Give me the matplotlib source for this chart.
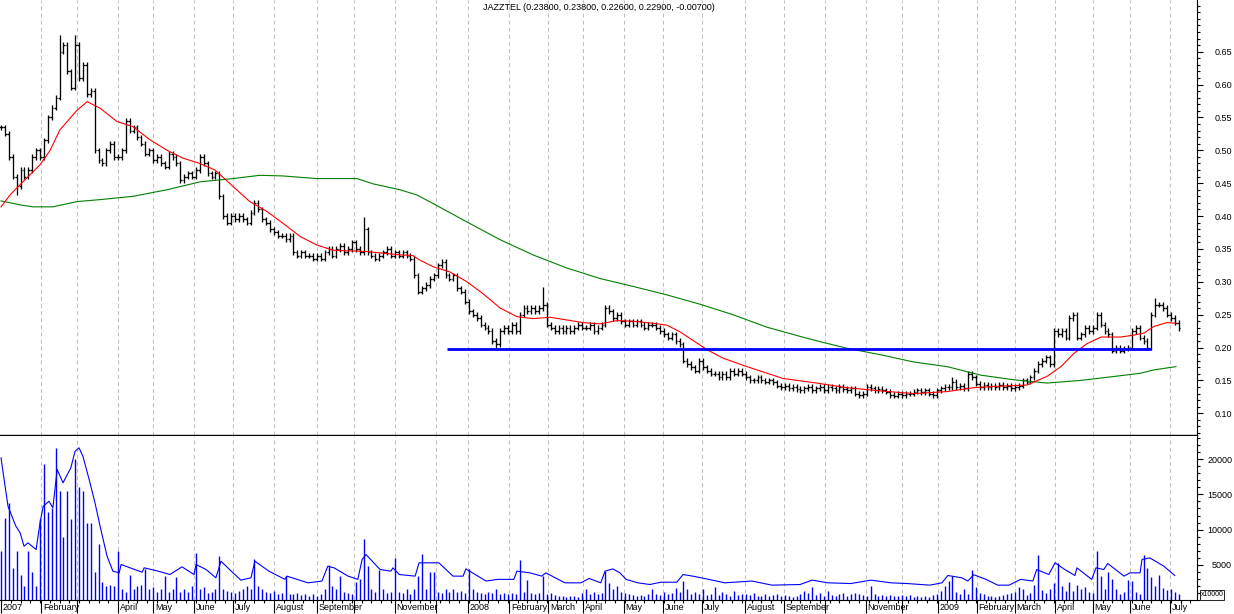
import numpy as np
import matplotlib
matplotlib.use('Agg')
import matplotlib.pyplot as plt
from matplotlib.collections import LineCollection
from matplotlib.ticker import FixedLocator, MultipleLocator, NullFormatter

plt.rcParams['font.family'] = ['Liberation Sans', 'DejaVu Sans']

TITLE = 'JAZZTEL (0.23800, 0.23800, 0.22600, 0.22900, -0.00700)'

# closing prices, one bar every two sessions (Jan 2007 - Jul 2009)
closes = [
    0.535, 0.525, 0.49, 0.46, 0.445, 0.47, 0.46, 0.47, 0.49, 0.50,
    0.49, 0.515, 0.55, 0.565, 0.58, 0.65, 0.66, 0.62, 0.595, 0.66,
    0.61, 0.63, 0.585, 0.59, 0.50, 0.485, 0.48, 0.50, 0.51, 0.49,
    0.49, 0.50, 0.545, 0.53, 0.535, 0.52, 0.51, 0.495, 0.50, 0.485,
    0.49, 0.48, 0.475, 0.495, 0.49, 0.48, 0.455, 0.46, 0.465, 0.46,
    0.47, 0.49, 0.48, 0.465, 0.46, 0.465, 0.43, 0.40, 0.39, 0.40,
    0.395, 0.40, 0.395, 0.39, 0.405, 0.42, 0.41, 0.395, 0.39, 0.38,
    0.375, 0.37, 0.37, 0.365, 0.37, 0.345, 0.34, 0.345, 0.34, 0.34,
    0.335, 0.34, 0.335, 0.345, 0.35, 0.34, 0.35, 0.355, 0.345, 0.35,
    0.36, 0.35, 0.345, 0.38, 0.345, 0.34, 0.335, 0.34, 0.345, 0.35,
    0.34, 0.345, 0.34, 0.345, 0.34, 0.335, 0.31, 0.285, 0.29, 0.295,
    0.305, 0.31, 0.325, 0.33, 0.31, 0.305, 0.31, 0.29, 0.285, 0.27,
    0.255, 0.25, 0.245, 0.235, 0.23, 0.225, 0.21, 0.205, 0.225, 0.23,
    0.225, 0.235, 0.225, 0.25, 0.26, 0.255, 0.26, 0.255, 0.26, 0.265,
    0.235, 0.23, 0.225, 0.23, 0.225, 0.23, 0.225, 0.23, 0.235, 0.23,
    0.23, 0.235, 0.225, 0.23, 0.235, 0.26, 0.255, 0.245, 0.25, 0.24,
    0.235, 0.24, 0.235, 0.24, 0.235, 0.23, 0.235, 0.235, 0.23, 0.225,
    0.22, 0.215, 0.22, 0.21, 0.205, 0.18, 0.175, 0.17, 0.165, 0.18,
    0.17, 0.165, 0.16, 0.16, 0.155, 0.16, 0.155, 0.165, 0.16, 0.165,
    0.16, 0.155, 0.15, 0.15, 0.155, 0.15, 0.148, 0.15, 0.147, 0.142,
    0.14, 0.142, 0.138, 0.14, 0.137, 0.135, 0.138, 0.14, 0.135, 0.138,
    0.14, 0.135, 0.14, 0.138, 0.135, 0.14, 0.137, 0.135, 0.138, 0.13,
    0.128, 0.13, 0.14, 0.138, 0.135, 0.137, 0.135, 0.133, 0.128, 0.127,
    0.13, 0.128, 0.13, 0.13, 0.133, 0.135, 0.132, 0.135, 0.13, 0.128,
    0.135, 0.138, 0.14, 0.14, 0.148, 0.14, 0.142, 0.138, 0.16, 0.155,
    0.145, 0.14, 0.143, 0.14, 0.142, 0.14, 0.143, 0.14, 0.142, 0.138,
    0.14, 0.142, 0.15, 0.148, 0.155, 0.165, 0.175, 0.18, 0.185, 0.175,
    0.225, 0.22, 0.225, 0.215, 0.245, 0.25, 0.215, 0.22, 0.23, 0.225,
    0.23, 0.25, 0.235, 0.225, 0.22, 0.195, 0.20, 0.195, 0.198, 0.20,
    0.225, 0.23, 0.215, 0.21, 0.20, 0.25, 0.265, 0.265, 0.26, 0.25,
    0.245, 0.238, 0.229,
]

# intraday extremes that stick out of the bars
spike_idx = [4, 15, 19, 65, 93, 127, 139, 244, 296]
spike_val = [0.432, 0.675, 0.675, 0.425, 0.399, 0.198, 0.292, 0.155, 0.275]

# short moving average (red)
ma_red_x = [0, 2.3, 5.6, 10.0, 12.6, 15.1, 19.5, 22.1, 25.4, 29.7, 33.8, 38.2,
            42.6, 46.7, 51.0, 54.9, 59.5, 63.8, 68.2, 72.3, 76.7, 81.0, 85.1,
            93.8, 102.3, 105.6, 107.4, 110.8, 115.1, 119.5, 123.6, 128.0,
            132.3, 136.4, 140.8, 145.1, 149.2, 153.6, 158.0, 162.1, 167.2,
            170.8, 174.1, 177.4, 181.0, 185.1, 190.3, 196.4, 200.5, 209.2,
            216.9, 225.6, 234.1, 242.6, 249.5, 255.4, 263.1, 268.2, 271.8,
            275.1, 278.5, 282.1, 287.2, 290.5, 293.1, 295.6, 299.0, 301.3]
ma_red_y = [0.414, 0.432, 0.452, 0.478, 0.50, 0.531, 0.561, 0.574, 0.564, 0.544,
            0.536, 0.516, 0.50, 0.488, 0.48, 0.47, 0.445, 0.422, 0.407, 0.389,
            0.369, 0.356, 0.348, 0.346, 0.341, 0.34, 0.333, 0.323, 0.315, 0.30,
            0.282, 0.26, 0.247, 0.244, 0.246, 0.242, 0.238, 0.236, 0.241, 0.24,
            0.237, 0.234, 0.224, 0.211, 0.197, 0.184, 0.173, 0.161, 0.153,
            0.146, 0.139, 0.134, 0.130, 0.133, 0.139, 0.141, 0.143, 0.156,
            0.171, 0.191, 0.206, 0.216, 0.216, 0.219, 0.222, 0.232, 0.238, 0.237]

# long moving average (green)
ma_green_x = [0, 4.9, 8.2, 13.3, 19.5, 25.4, 33.8, 42.6, 51.0, 59.5, 66.4, 72.3,
              81.0, 91.3, 95.4, 102.3, 106.7, 110.8, 119.5, 128.0, 136.4, 145.1,
              153.6, 162.1, 170.8, 179.2, 187.7, 196.4, 204.9, 210.0, 216.9,
              225.6, 234.1, 242.6, 251.3, 259.7, 268.2, 276.9, 285.4, 292.3,
              295.6, 301.3]
ma_green_y = [0.423, 0.417, 0.414, 0.414, 0.422, 0.425, 0.430, 0.440, 0.452,
              0.457, 0.462, 0.461, 0.457, 0.457, 0.449, 0.44, 0.432, 0.419,
              0.391, 0.364, 0.341, 0.321, 0.305, 0.293, 0.280, 0.266, 0.250,
              0.231, 0.217, 0.209, 0.199, 0.189, 0.178, 0.171, 0.158, 0.151,
              0.146, 0.150, 0.156, 0.161, 0.166, 0.171]

# support line (blue)
support_level = 0.198
support_from = 114.4
support_to = 294.9

# volume, x10000
volume = [
    7000, 11600, 13800, 4500, 7000, 3500, 2000, 7000, 4000, 2000,
    11500, 19300, 12500, 13000, 21600, 15500, 9000, 15500, 11500, 20000,
    16000, 15500, 11000, 11000, 4000, 8000, 2500, 2000, 2200, 2000,
    7000, 1500, 1200, 3500, 1500, 2000, 2200, 4400, 1500, 1800,
    1200, 1500, 3400, 1200, 1500, 3300, 1200, 1500, 1200, 2000,
    6700, 1500, 1800, 1000, 1200, 1500, 6200, 1500, 1300, 1200,
    1000, 1300, 1500, 2000, 1500, 5800, 2000, 1500, 1200, 1000,
    1300, 800, 1000, 3400, 900, 800, 1000, 700, 800, 600,
    800, 600, 900, 1500, 5000, 2000, 1500, 3400, 1200, 1000,
    800, 2500, 3000, 8700, 4800, 1500, 1200, 4200, 1500, 1000,
    1200, 6000, 1200, 1000, 1500, 800, 1500, 3400, 6500, 1500,
    4000, 4000, 1200, 1000, 1500, 1200, 1500, 1200, 1300, 1000,
    4400, 1500, 1200, 1000, 800, 1200, 1000, 1500, 800, 1000,
    800, 1000, 900, 5700, 1200, 2800, 1000, 800, 1000, 3400,
    900, 1000, 700, 500, 600, 400, 500, 600, 400, 1000,
    1500, 800, 1200, 800, 1000, 4100, 2400, 1500, 2000, 1200,
    1000, 800, 700, 600, 700, 600, 900, 1500, 900, 700,
    1200, 800, 1000, 1700, 1200, 2700, 1500, 900, 1200, 900,
    1600, 700, 800, 1800, 700, 1200, 800, 600, 1300, 700,
    800, 900, 700, 1000, 500, 600, 800, 500, 700, 900,
    500, 700, 600, 400, 600, 900, 1300, 1000, 1800, 700,
    1000, 600, 1300, 700, 600, 800, 1000, 600, 900, 1000,
    900, 700, 600, 2000, 900, 600, 700, 500, 700, 500,
    600, 700, 500, 700, 400, 600, 400, 500, 400, 700,
    900, 1300, 2000, 2700, 3400, 1200, 800, 1500, 900, 4300,
    1800, 1000, 800, 600, 500, 400, 500, 700, 900, 1000,
    1200, 1800, 1600, 700, 1000, 2200, 6400, 1400, 1000, 1600,
    2400, 5300, 2000, 1300, 2500, 1300, 2200, 1600, 1800, 1200,
    1000, 7000, 3400, 1600, 4000, 3000, 1500, 800, 1200, 2900,
    2700, 1200, 900, 6400, 4500, 3300, 2000, 3500, 1700, 1400,
    1500, 1200, 900,
]

# volume moving average
vol_ma_x = [0, 0.8, 1.8, 2.8, 3.8, 4.9, 5.9, 6.9, 9.0, 10.0, 10.8, 12.3, 13.3,
            14.4, 15.9, 17.9, 19.0, 20.0, 21.0, 22.6, 24.1, 25.6, 27.2, 28.7,
            30.3, 30.8, 33.1, 36.2, 36.7, 40.3, 43.3, 46.4, 49.5, 50.0, 52.6,
            55.1, 56.4, 59.5, 61.5, 64.1, 65.1, 68.7, 72.8, 73.3, 78.7, 82.3,
            83.8, 85.4, 89.0, 91.5, 92.6, 93.6, 97.2, 100.0, 100.5, 102.1,
            106.2, 107.2, 112.3, 115.9, 118.5, 119.2, 124.4, 127.4, 131.5,
            132.3, 135.6, 138.7, 139.7, 144.6, 148.7, 150.8, 153.8, 154.9,
            156.9, 158.7, 160.3, 163.3, 166.4, 169.2, 173.3, 174.9, 177.4,
            181.5, 185.6, 192.6, 197.7, 204.9, 208.0, 212.1, 217.9, 223.1,
            228.2, 232.3, 238.2, 241.3, 242.8, 246.4, 247.9, 249.5, 252.6,
            255.6, 258.5, 261.5, 264.6, 265.6, 268.7, 270.3, 272.8, 275.4,
            275.9, 279.7, 280.8, 282.8, 283.8, 288.0, 289.5, 292.1, 292.6,
            294.6, 298.2, 301.0]
vol_ma_y = [20200, 17100, 13300, 11900, 10500, 9550, 7640, 8120, 7170, 10960,
            13300, 14030, 13100, 18540, 16650, 18780, 21140, 21620, 20430,
            17120, 13800, 10010, 6220, 4090, 3860, 5040, 4570, 3950, 4570,
            4100, 3620, 4710, 3620, 5040, 4330, 3150, 5510, 3860, 2820, 3150,
            5510, 4100, 2930, 3390, 2440, 2690, 4800, 4570, 3390, 2930, 5750,
            6460, 4330, 4100, 4570, 3620, 3390, 5280, 5280, 3390, 3390, 4420,
            2690, 2930, 2930, 4100, 3860, 3390, 3860, 2440, 2440, 3060, 2440,
            4100, 4420, 3860, 2930, 2440, 2200, 2530, 2530, 3620, 3390, 2930,
            2440, 2690, 2110, 2200, 2820, 2440, 2340, 2820, 2440, 2340, 2110,
            2440, 3480, 3150, 2690, 3580, 2930, 2110, 2110, 2930, 2690, 4330,
            3620, 5280, 4330, 3480, 4570, 2930, 4570, 4330, 5190, 3390, 3860,
            3860, 5750, 5980, 4800, 3480]

# month boundaries on the bar axis
month_pos = [0, 10.3, 19.5, 30.0, 39.0, 49.5, 59.5, 70.0, 81.0, 90.5, 101.0,
             111.5, 119.7, 130.3, 140.3, 149.2, 159.7, 169.7, 179.7, 190.8,
             200.8, 211.3, 221.8, 231.0, 240.3, 250.3, 260.0, 270.3, 280.0,
             289.5, 299.7]
month_lbl = ['2007', 'February', '', 'April', 'May', 'June', 'July', 'August',
             'September', '', 'November', '', '2008', 'February', 'March',
             'April', 'May', 'June', 'July', 'August', 'September', '',
             'November', '', '2009', 'February', 'March', 'April', 'May',
             'June', 'July']

price_ticks = [0.10, 0.15, 0.20, 0.25, 0.30, 0.35, 0.40, 0.45, 0.50, 0.55, 0.60, 0.65]
vol_ticks = [5000, 10000, 15000, 20000]

W, H = 1234, 614
X_RIGHT = 1197
FS = 6.5
GRID = dict(color='#c0c0c0', lw=0.75, ls=(0, (3.8, 3.0)), zorder=0)

fig = plt.figure(figsize=(W / 100, H / 100), dpi=100)
ax = fig.add_axes([0, (H - 435) / H, X_RIGHT / W, 435 / H])
axv = fig.add_axes([0, (H - 600) / H, X_RIGHT / W, 164 / H])

# ---------------------------------------------------------------------------
# price panel
# ---------------------------------------------------------------------------
c = np.array(closes)
x = np.arange(len(c))
o = np.concatenate([[c[0]], c[:-1]])
hi = np.maximum(o, c) + 0.004
lo = np.minimum(o, c) - 0.004
for k, v in zip(spike_idx, spike_val):
    hi[k] = max(hi[k], v)
    lo[k] = min(lo[k], v)

tw = 0.45
segs = []
for i in range(len(c)):
    segs.append([(x[i], lo[i]), (x[i], hi[i])])
    segs.append([(x[i] - tw, o[i]), (x[i], o[i])])
    segs.append([(x[i], c[i]), (x[i] + tw, c[i])])
ax.add_collection(LineCollection(segs, colors='black', linewidths=0.95, zorder=3))

ax.plot(ma_green_x, ma_green_y, color='#008000', lw=0.8, zorder=4)
ax.plot(ma_red_x, ma_red_y, color='#ff0000', lw=0.8, zorder=4)
ax.hlines(support_level, support_from, support_to, color='#0000ff', lw=2.0, zorder=5)

for p in month_pos[1:]:
    ax.axvline(p, **GRID)
    axv.axvline(p, **GRID)

xlim = (-0.26, 306.7)
ax.set_xlim(*xlim)
ax.set_ylim(0.067, 0.7286)

ax.yaxis.tick_right()
ax.yaxis.set_major_locator(FixedLocator(price_ticks))
ax.yaxis.set_minor_locator(MultipleLocator(0.01))
ax.set_yticklabels([f'{t:.2f}' for t in price_ticks])
ax.tick_params(axis='y', which='major', direction='out', length=4.3, width=0.8, pad=21,
               labelsize=FS)
ax.tick_params(axis='y', which='minor', direction='out', length=2.2, width=0.8)
plt.setp(ax.get_yticklabels(), ha='right')
ax.set_xticks([])
for s in ['top', 'left']:
    ax.spines[s].set_visible(False)
ax.spines['right'].set_linewidth(0.8)
ax.spines['bottom'].set_linewidth(1.0)

# ---------------------------------------------------------------------------
# volume panel
# ---------------------------------------------------------------------------
axv.vlines(x, 0, volume, color='#0000ff', lw=1.0, zorder=3)
axv.plot(vol_ma_x, vol_ma_y, color='#0000ff', lw=0.8, zorder=4)
axv.set_xlim(*xlim)
axv.set_ylim(0, 23300)

axv.yaxis.tick_right()
axv.yaxis.set_major_locator(FixedLocator(vol_ticks))
axv.yaxis.set_minor_locator(MultipleLocator(1000))
axv.set_yticklabels([str(t) for t in vol_ticks])
axv.tick_params(axis='y', which='major', direction='out', length=4.3, width=0.8, pad=21,
                labelsize=FS)
axv.tick_params(axis='y', which='minor', direction='out', length=2.2, width=0.8)
plt.setp(axv.get_yticklabels(), ha='right')

axv.xaxis.set_major_locator(FixedLocator(month_pos))
axv.xaxis.set_minor_locator(MultipleLocator(2.5))
axv.xaxis.set_major_formatter(NullFormatter())
axv.tick_params(axis='x', which='major', direction='out', length=9.4, width=0.8)
axv.tick_params(axis='x', which='minor', direction='out', length=2.2, width=0.8)
for p, lbl in zip(month_pos, month_lbl):
    if lbl:
        axv.annotate(lbl, xy=(p, 0), xycoords=('data', 'axes fraction'),
                     xytext=(1.2, -2), textcoords='offset points',
                     ha='left', va='top', fontsize=FS)
for s in ['top', 'left']:
    axv.spines[s].set_visible(False)
axv.spines['right'].set_linewidth(0.8)
axv.spines['bottom'].set_linewidth(0.8)

fig.text(1212 / W, 1 - 595 / H, 'x10000', fontsize=5, ha='center', va='center',
         bbox=dict(boxstyle='square,pad=0.15', fc='white', ec='black', lw=0.6))

fig.text(599 / W, 1 - 7 / H, TITLE, ha='center', va='center', fontsize=FS)

fig.savefig('out.png', dpi=100)
